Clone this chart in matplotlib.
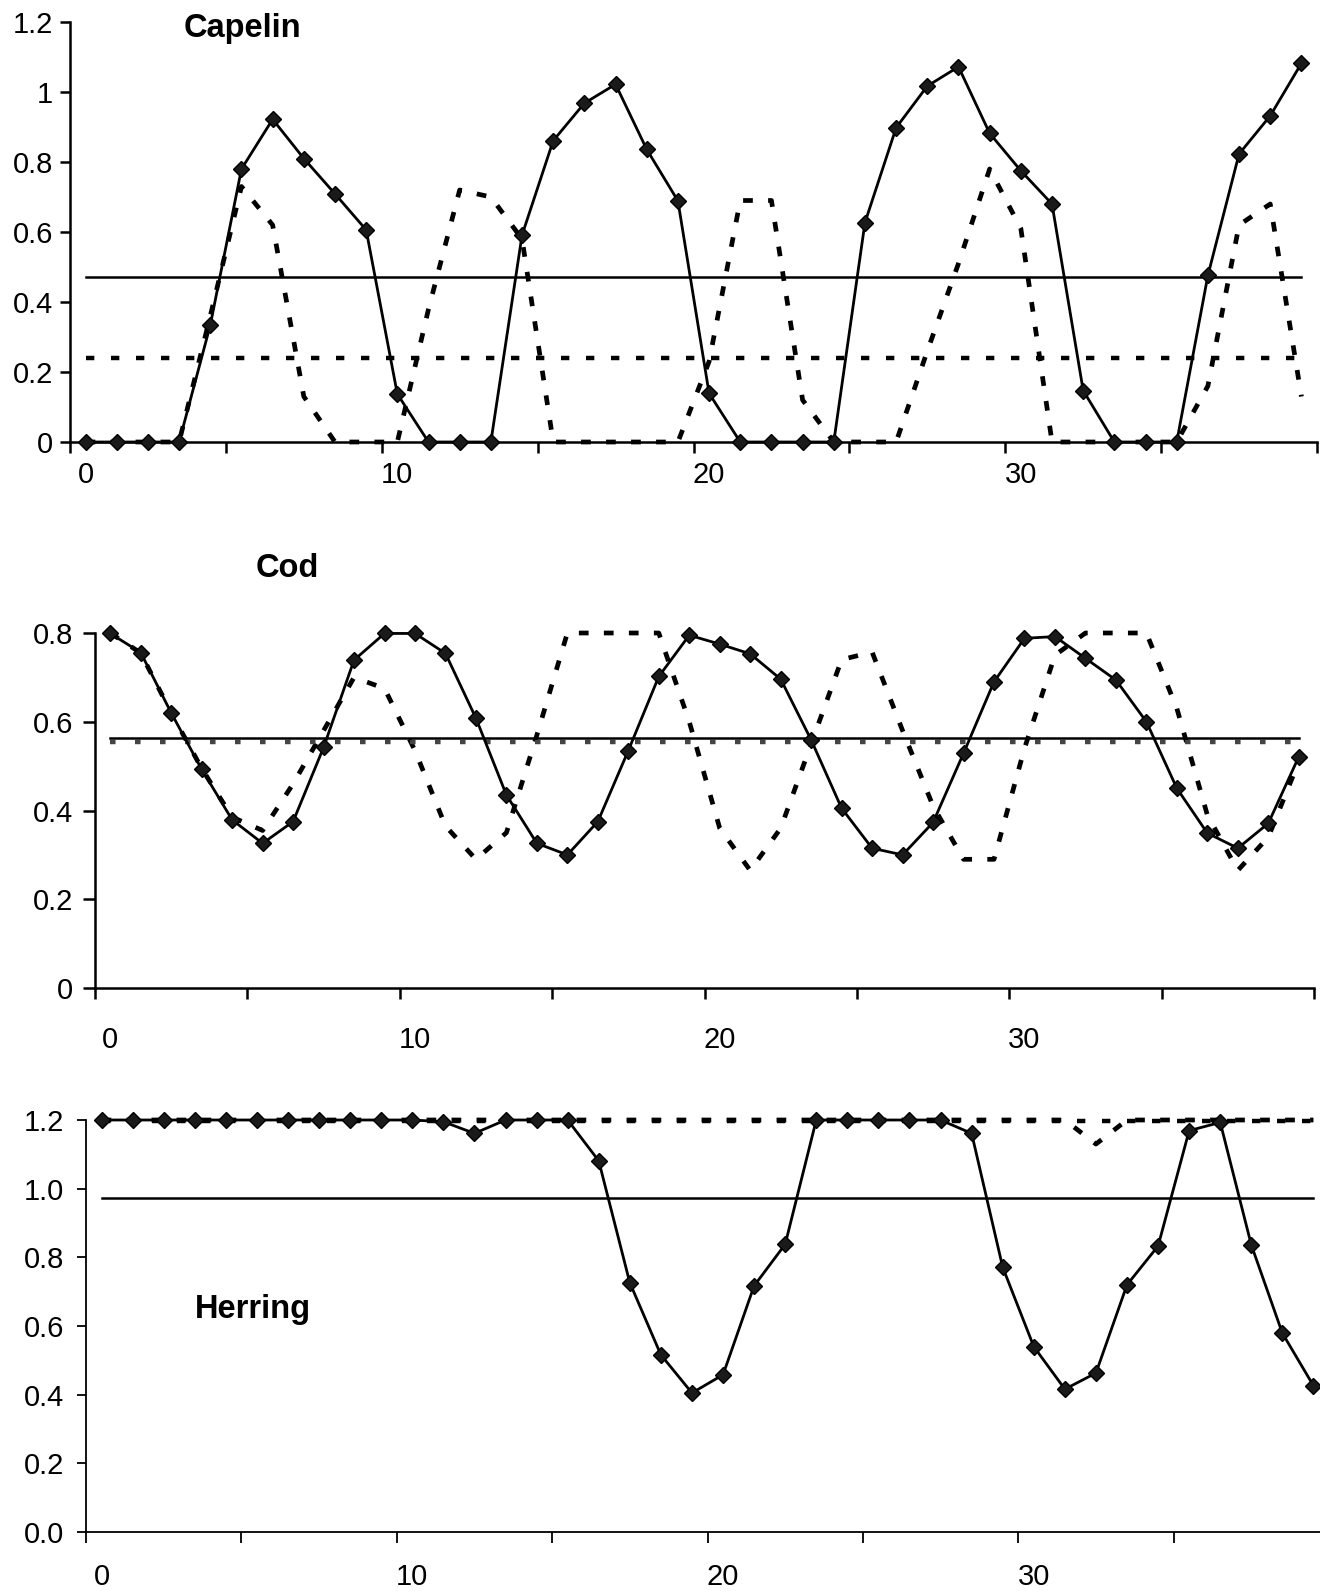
import matplotlib
matplotlib.use("Agg")
import matplotlib.pyplot as plt
import numpy as np

plt.rcParams['font.family'] = ['Liberation Sans', 'DejaVu Sans']
plt.rcParams['lines.scale_dashes'] = False

# ---------------- data ----------------
categories = list(range(40))
x_tick_labels = ['0', '10', '20', '30']

capelin_solid = [0, 0, 0, 0, 0.334, 0.78, 0.922, 0.81, 0.709, 0.606,
                 0.137, 0, 0, 0, 0.591, 0.861, 0.968, 1.022, 0.836, 0.689,
                 0.139, 0, 0, 0, 0, 0.627, 0.898, 1.017, 1.072, 0.882,
                 0.775, 0.68, 0.147, 0, 0, 0, 0.476, 0.823, 0.932, 1.082]
capelin_dashed = [0, 0, 0, 0, 0.36, 0.73, 0.62, 0.13, 0, 0,
                  0, 0.38, 0.72, 0.70, 0.58, 0, 0, 0, 0, 0,
                  0.23, 0.69, 0.69, 0.12, 0, 0, 0, 0.26, 0.51, 0.78,
                  0.61, 0, 0, 0, 0, 0, 0.16, 0.62, 0.68, 0.13]
capelin_solid_mean = 0.472
capelin_dashed_mean = 0.239
capelin_yticks = [0, 0.2, 0.4, 0.6, 0.8, 1.0, 1.2]
capelin_yticklabels = ['0', '0.2', '0.4', '0.6', '0.8', '1', '1.2']

cod_solid = [0.799, 0.756, 0.620, 0.493, 0.379, 0.326, 0.375, 0.542, 0.739, 0.799,
             0.799, 0.754, 0.608, 0.435, 0.326, 0.300, 0.375, 0.535, 0.702, 0.795,
             0.775, 0.753, 0.696, 0.559, 0.405, 0.315, 0.300, 0.373, 0.529, 0.690,
             0.788, 0.792, 0.743, 0.694, 0.600, 0.450, 0.349, 0.315, 0.371, 0.521]
cod_dashed = [0.80, 0.755, 0.62, 0.495, 0.385, 0.355, 0.46, 0.58, 0.70, 0.675,
              0.535, 0.365, 0.29, 0.35, 0.57, 0.80, 0.80, 0.80, 0.80, 0.60,
              0.36, 0.265, 0.36, 0.55, 0.74, 0.757, 0.58, 0.41, 0.29, 0.29,
              0.54, 0.75, 0.80, 0.80, 0.80, 0.63, 0.39, 0.265, 0.34, 0.51]
cod_solid_mean = 0.563
cod_dashed_mean = 0.555
cod_yticks = [0, 0.2, 0.4, 0.6, 0.8]
cod_yticklabels = ['0', '0.2', '0.4', '0.6', '0.8']

herring_solid = [1.2, 1.2, 1.2, 1.2, 1.2, 1.2, 1.2, 1.2, 1.2, 1.2,
                 1.2, 1.195, 1.161, 1.2, 1.2, 1.2, 1.081, 0.726, 0.516, 0.405,
                 0.458, 0.717, 0.838, 1.2, 1.2, 1.2, 1.2, 1.2, 1.161, 0.771,
                 0.540, 0.416, 0.463, 0.720, 0.833, 1.169, 1.193, 0.836, 0.579, 0.426]
herring_dashed = [1.2, 1.2, 1.2, 1.2, 1.2, 1.2, 1.2, 1.2, 1.2, 1.2,
                  1.2, 1.2, 1.2, 1.2, 1.2, 1.2, 1.2, 1.2, 1.2, 1.2,
                  1.2, 1.2, 1.2, 1.2, 1.2, 1.2, 1.2, 1.2, 1.2, 1.2,
                  1.2, 1.2, 1.13, 1.2, 1.2, 1.2, 1.2, 1.2, 1.2, 1.2]
herring_solid_mean = 0.974
herring_dashed_mean = 1.198
herring_yticks = [0, 0.2, 0.4, 0.6, 0.8, 1.0, 1.2]
herring_yticklabels = ['0.0', '0.2', '0.4', '0.6', '0.8', '1.0', '1.2']

# ---------------- layout ----------------
W, H = 1320, 1591
fig = plt.figure(figsize=(W / 100, H / 100), dpi=100)


def px_axes(left, right, top, bottom):
    return fig.add_axes([left / W, 1 - bottom / H, (right - left) / W, (bottom - top) / H])


def draw_panel(ax, solid, dashed, s_mean, d_mean, ymax, yticks, yticklabels,
               ytick_len, ypad, xpad, spine_lw, mean_dash_color='black', mean_dash=(6, 12)):
    n = len(categories)
    ax.plot(categories, dashed, color='black', lw=3.4, dashes=(7, 11),
            clip_on=False, zorder=2)
    ax.plot(categories, [d_mean] * n, color=mean_dash_color, lw=3.2,
            dashes=mean_dash, clip_on=False, zorder=2)
    ax.plot(categories, [s_mean] * n, color='black', lw=1.8, clip_on=False, zorder=3)
    ax.plot(categories, solid, color='black', lw=2.0, marker='D', ms=8.5,
            mfc='#1a1a1a', mec='black', mew=1.0, clip_on=False, zorder=4)

    ax.set_xlim(-0.5, n - 0.5)
    ax.set_ylim(0, ymax)
    for s in ['top', 'right']:
        ax.spines[s].set_visible(False)
    for s in ['left', 'bottom']:
        ax.spines[s].set_linewidth(spine_lw)

    ax.set_xticks([0, 10, 20, 30])
    ax.set_xticklabels(x_tick_labels)
    ax.set_xticks(np.arange(-0.5, n, 5), minor=True)
    ax.tick_params(axis='x', which='major', length=0, pad=xpad, labelsize=21)
    ax.tick_params(axis='x', which='minor', length=8, width=spine_lw, direction='out')

    ax.set_yticks(yticks)
    ax.set_yticklabels(yticklabels)
    ax.tick_params(axis='y', which='major', length=ytick_len, width=spine_lw,
                   pad=ypad, labelsize=21, direction='out')
    ax.patch.set_alpha(0)


ax1 = px_axes(70, 1317, 22, 442)
draw_panel(ax1, capelin_solid, capelin_dashed, capelin_solid_mean, capelin_dashed_mean,
           1.2, capelin_yticks, capelin_yticklabels, 7.2, 5.0, 13.5, 1.8)

ax2 = px_axes(95, 1314, 633, 988)
draw_panel(ax2, cod_solid, cod_dashed, cod_solid_mean, cod_dashed_mean,
           0.8, cod_yticks, cod_yticklabels, 8.6, 7, 27, 1.8,
           mean_dash_color='#444444', mean_dash=(4, 14))

ax3 = px_axes(86, 1329, 1120, 1532)
draw_panel(ax3, herring_solid, herring_dashed, herring_solid_mean, herring_dashed_mean,
           1.2, herring_yticks, herring_yticklabels, 6.5, 9, 22, 1.3)

title_kw = dict(fontsize=23.5, fontweight='bold', ha='center', va='baseline')
fig.text(242 / W, 1 - 37 / H, 'Capelin', **title_kw)
fig.text(287 / W, 1 - 577 / H, 'Cod', **title_kw)
fig.text(253 / W, 1 - 1318 / H, 'Herring', **title_kw)

fig.savefig('out.png', dpi=100, facecolor='white')
